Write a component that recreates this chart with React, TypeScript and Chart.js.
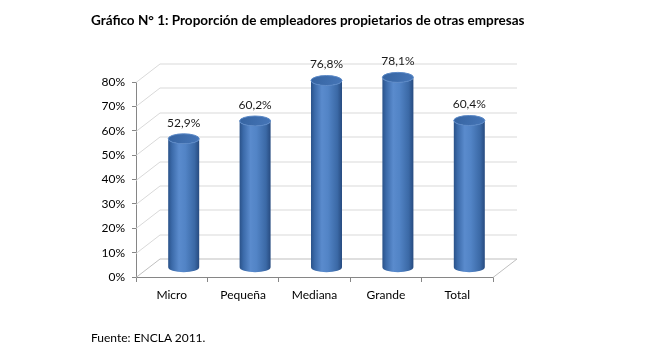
import React, { useEffect, useRef } from "react";
import { Chart, registerables } from "chart.js";

Chart.register(...registerables);

const titleText = "Gráfico N° 1: Proporción de empleadores propietarios de otras empresas";
const footerText = "Fuente: ENCLA 2011.";
const categories = ["Micro", "Pequeña", "Mediana", "Grande", "Total"];
const values = [52.9, 60.2, 76.8, 78.1, 60.4];
const valueLabels = ["52,9%", "60,2%", "76,8%", "78,1%", "60,4%"];
const yMin = 0;
const yMax = 80;
const yStep = 10;

const FONT = "Lato, 'Open Sans', sans-serif";
const DX = 24;
const DY = -18.5;

const wallPlugin = {
  id: "wall3d",
  beforeDatasetsDraw(chart: any) {
    const { ctx, chartArea, scales } = chart;
    const y = scales.y;
    const { left, right } = chartArea;
    ctx.save();
    ctx.lineWidth = 1;
    ctx.strokeStyle = "#d9d9d9";
    for (let v = yMin; v <= yMax; v += yStep) {
      const yf = Math.round(y.getPixelForValue(v)) + 0.5;
      ctx.strokeStyle = v === yMin ? "#bfbfbf" : "#d9d9d9";
      ctx.beginPath();
      ctx.moveTo(left, yf);
      ctx.lineTo(left + DX, yf + DY);
      ctx.lineTo(right + DX, yf + DY);
      ctx.stroke();
    }
    const y0 = Math.round(y.getPixelForValue(yMin)) + 0.5;
    ctx.strokeStyle = "#bfbfbf";
    ctx.beginPath();
    ctx.moveTo(right, y0);
    ctx.lineTo(right + DX, y0 + DY);
    ctx.stroke();
    ctx.restore();
  },
  afterDatasetsDraw(chart: any) {
    const { ctx } = chart;
    const meta = chart.getDatasetMeta(0);
    const rx = 15.5;
    const ry = 5;
    ctx.save();
    meta.data.forEach((bar: any, i: number) => {
      const cx = bar.x + DX / 2;
      const topY = bar.y + DY / 2;
      const baseY = bar.base + DY / 2;
      const g = ctx.createLinearGradient(cx - rx, 0, cx + rx, 0);
      g.addColorStop(0, "#2a5289");
      g.addColorStop(0.12, "#3b6aa9");
      g.addColorStop(0.35, "#5a8bcd");
      g.addColorStop(0.55, "#5284c6");
      g.addColorStop(0.85, "#3b69a6");
      g.addColorStop(1, "#274b80");
      ctx.beginPath();
      ctx.moveTo(cx - rx, topY);
      ctx.lineTo(cx - rx, baseY);
      ctx.ellipse(cx, baseY, rx, ry, 0, Math.PI, 0, true);
      ctx.lineTo(cx + rx, topY);
      ctx.ellipse(cx, topY, rx, ry, 0, 0, Math.PI, false);
      ctx.closePath();
      ctx.fillStyle = g;
      ctx.fill();
      const tg = ctx.createLinearGradient(cx - rx, topY - ry, cx + rx, topY + ry);
      tg.addColorStop(0, "#3563a0");
      tg.addColorStop(1, "#4676b8");
      ctx.beginPath();
      ctx.ellipse(cx, topY, rx, ry, 0, 0, Math.PI * 2);
      ctx.fillStyle = tg;
      ctx.fill();
      ctx.lineWidth = 1;
      ctx.strokeStyle = "#5a88c6";
      ctx.stroke();
      ctx.fillStyle = "#1a1a1a";
      ctx.font = `12px ${FONT}`;
      ctx.textAlign = "center";
      ctx.textBaseline = "middle";
      ctx.fillText(valueLabels[i], cx, topY - 16);
    });
    ctx.restore();
  },
};

export default function App() {
  const ref = useRef<HTMLCanvasElement | null>(null);
  useEffect(() => {
    if (!ref.current) return;
    const chart = new Chart(ref.current, {
      type: "bar",
      data: {
        labels: categories,
        datasets: [
          {
            data: values,
            backgroundColor: "rgba(0,0,0,0)",
            borderWidth: 0,
          },
        ],
      },
      options: {
        responsive: false,
        animation: false,
        devicePixelRatio: 1,
        layout: { padding: { left: 0, right: 156, top: 82, bottom: 0 } },
        plugins: {
          legend: { display: false },
          tooltip: { enabled: false },
          title: { display: false },
        },
        scales: {
          x: {
            grid: {
              offset: true,
              drawOnChartArea: false,
              drawTicks: true,
              tickLength: 5,
              color: "#868686",
            },
            border: { display: true, color: "#868686" },
            ticks: { color: "#000", font: { family: FONT, size: 12 }, padding: 6, maxRotation: 0 },
            afterFit: (axis: any) => {
              axis.height = 77;
            },
          },
          y: {
            min: yMin,
            max: yMax,
            grid: {
              drawOnChartArea: false,
              drawTicks: true,
              tickLength: 4,
              color: "#868686",
            },
            border: { display: true, color: "#868686" },
            ticks: {
              stepSize: yStep,
              color: "#000",
              font: { family: FONT, size: 12 },
              padding: 7,
              callback: (v: any) => `${v}%`,
            },
            afterFit: (axis: any) => {
              axis.width = 136;
            },
          },
        },
      },
      plugins: [wallPlugin],
    });
    return () => chart.destroy();
  }, []);

  return (
    <div style={{ position: "absolute", left: 0, top: 0, width: 649, height: 354, background: "#fff" }}>
      <canvas ref={ref} width={649} height={354} style={{ position: "absolute", left: 0, top: 0 }} />
      <div
        style={{
          position: "absolute",
          left: 91,
          top: 12,
          lineHeight: "16px",
          fontFamily: FONT,
          fontWeight: 700,
          fontSize: 13.5,
          color: "#000",
          whiteSpace: "nowrap",
        }}
      >
        {titleText}
      </div>
      <div
        style={{
          position: "absolute",
          left: 91,
          top: 330,
          lineHeight: "16px",
          fontFamily: FONT,
          fontSize: 12,
          color: "#000",
          whiteSpace: "nowrap",
        }}
      >
        {footerText}
      </div>
    </div>
  );
}
